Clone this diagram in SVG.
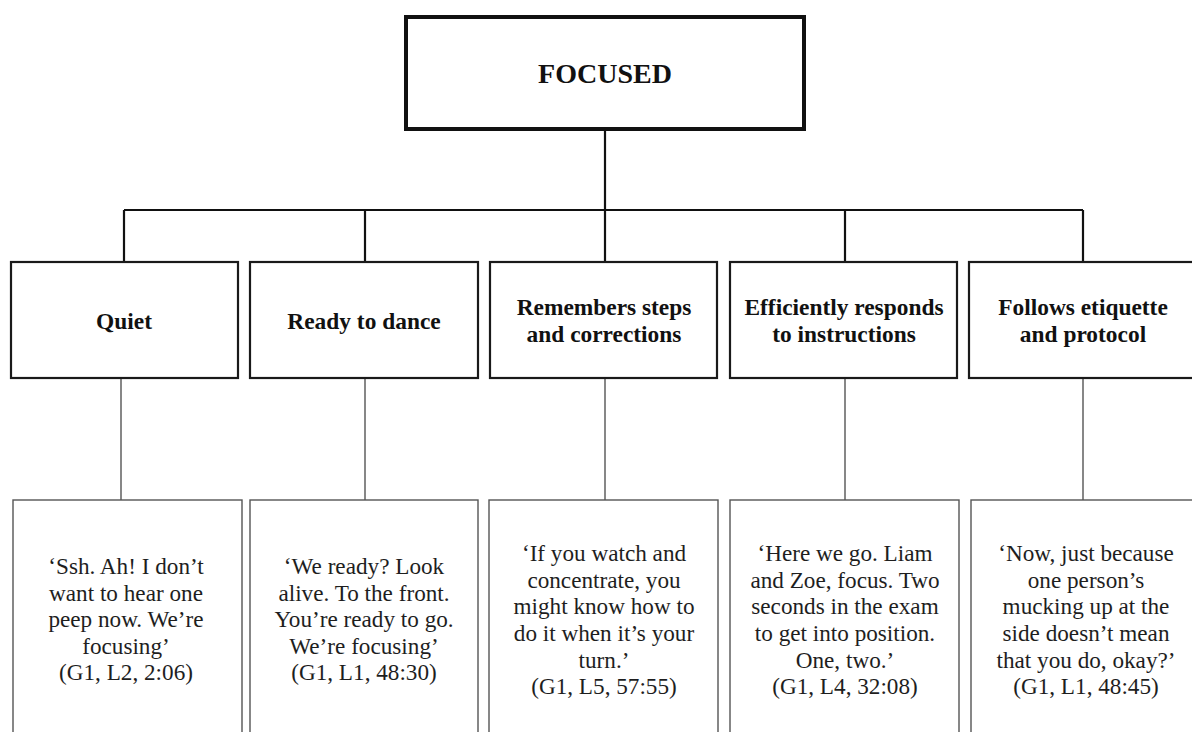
<svg xmlns="http://www.w3.org/2000/svg" width="1192" height="732" viewBox="0 0 1192 732">
  <style>
    .bg { fill: #ffffff; }
    .root { fill: #ffffff; stroke: #111111; stroke-width: 4; }
    .cat { fill: #ffffff; stroke: #1a1a1a; stroke-width: 2.2; }
    .quote { fill: #ffffff; stroke: #555555; stroke-width: 1.4; }
    .trunk { fill: none; stroke: #111111; stroke-width: 2.2; }
    .stem { fill: none; stroke: #555555; stroke-width: 1.4; }
    text { font-family: "Liberation Serif", "Times New Roman", serif; fill: #111111; text-anchor: middle; }
    .title { font-size: 28px; font-weight: bold; }
    .label { font-size: 23.4px; font-weight: bold; }
    .body { font-size: 23.2px; fill: #1e1e1e; }
  </style>

  <rect class="bg" x="0" y="0" width="1192" height="732"/>

  <!-- connectors -->
  <g id="connectors">
    <path class="trunk" d="M605 131 V210 M124 210 H1083 M124 210 V262 M365 210 V262 M605 210 V262 M845 210 V262 M1083 210 V262"/>
    <path class="stem" d="M121 378 V500 M365 378 V500 M605 378 V500 M845 378 V500 M1083 378 V500"/>
  </g>

  <!-- root -->
  <g id="node-focused">
    <rect class="root" x="406" y="17" width="398" height="112"/>
    <text class="title" x="605" y="83">FOCUSED</text>
  </g>

  <!-- categories -->
  <g id="node-quiet">
    <rect class="cat" x="11" y="262" width="227" height="116"/>
    <text class="label" x="124" y="329">Quiet</text>
  </g>
  <g id="node-ready">
    <rect class="cat" x="250" y="262" width="228" height="116"/>
    <text class="label" x="364" y="329">Ready to dance</text>
  </g>
  <g id="node-remembers">
    <rect class="cat" x="490" y="262" width="227" height="116"/>
    <text class="label" x="604" y="315">Remembers steps</text>
    <text class="label" x="604" y="342">and corrections</text>
  </g>
  <g id="node-responds">
    <rect class="cat" x="730" y="262" width="227" height="116"/>
    <text class="label" x="844" y="315">Efficiently responds</text>
    <text class="label" x="844" y="342">to instructions</text>
  </g>
  <g id="node-etiquette">
    <rect class="cat" x="969" y="262" width="228" height="116"/>
    <text class="label" x="1083" y="315">Follows etiquette</text>
    <text class="label" x="1083" y="342">and protocol</text>
  </g>

  <!-- quotations -->
  <g id="quote-quiet">
    <rect class="quote" x="13" y="500" width="229" height="250"/>
    <text class="body" x="126" y="574">‘Ssh. Ah! I don’t</text>
    <text class="body" x="126" y="600.5">want to hear one</text>
    <text class="body" x="126" y="627">peep now. We’re</text>
    <text class="body" x="126" y="654">focusing’</text>
    <text class="body" x="126" y="680">(G1, L2, 2:06)</text>
  </g>
  <g id="quote-ready">
    <rect class="quote" x="250" y="500" width="228" height="250"/>
    <text class="body" x="364" y="574">‘We ready? Look</text>
    <text class="body" x="364" y="600.5">alive. To the front.</text>
    <text class="body" x="364" y="627">You’re ready to go.</text>
    <text class="body" x="364" y="654">We’re focusing’</text>
    <text class="body" x="364" y="680">(G1, L1, 48:30)</text>
  </g>
  <g id="quote-remembers">
    <rect class="quote" x="489" y="500" width="229" height="250"/>
    <text class="body" x="604" y="561">‘If you watch and</text>
    <text class="body" x="604" y="587.5">concentrate, you</text>
    <text class="body" x="604" y="614">might know how to</text>
    <text class="body" x="604" y="641">do it when it’s your</text>
    <text class="body" x="604" y="667.5">turn.’</text>
    <text class="body" x="604" y="694">(G1, L5, 57:55)</text>
  </g>
  <g id="quote-responds">
    <rect class="quote" x="730" y="500" width="229" height="250"/>
    <text class="body" x="845" y="561">‘Here we go. Liam</text>
    <text class="body" x="845" y="587.5">and Zoe, focus. Two</text>
    <text class="body" x="845" y="614">seconds in the exam</text>
    <text class="body" x="845" y="641">to get into position.</text>
    <text class="body" x="845" y="667.5">One, two.’</text>
    <text class="body" x="845" y="694">(G1, L4, 32:08)</text>
  </g>
  <g id="quote-etiquette">
    <rect class="quote" x="971" y="500" width="229" height="250"/>
    <text class="body" x="1086" y="561">‘Now, just because</text>
    <text class="body" x="1086" y="587.5">one person’s</text>
    <text class="body" x="1086" y="614">mucking up at the</text>
    <text class="body" x="1086" y="641">side doesn’t mean</text>
    <text class="body" x="1086" y="667.5">that you do, okay?’</text>
    <text class="body" x="1086" y="694">(G1, L1, 48:45)</text>
  </g>
</svg>
